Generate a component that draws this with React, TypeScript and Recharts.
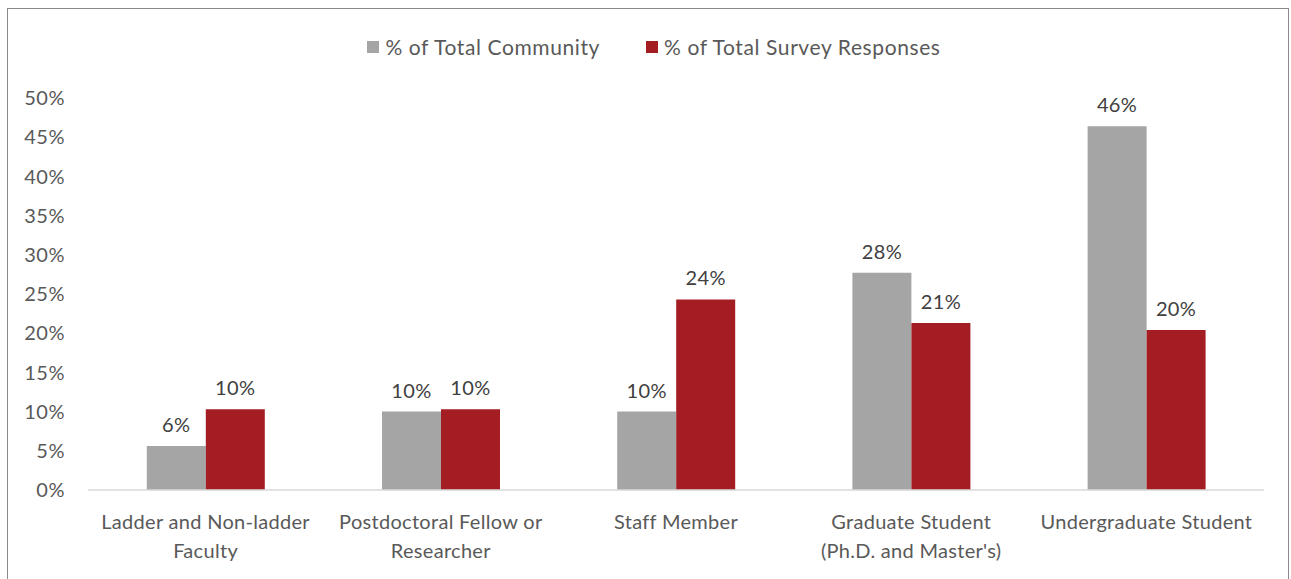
import { BarChart, Bar, XAxis, YAxis, Legend, LabelList } from 'recharts'

// Community vs. survey response shares by role
const categories = [
  'Ladder and Non-ladder\nFaculty',
  'Postdoctoral Fellow or\nResearcher',
  'Staff Member',
  'Graduate Student\n(Ph.D. and Master\'s)',
  'Undergraduate Student',
]
const communityShare = [0.056, 0.1, 0.1, 0.277, 0.464]
const responseShare = [0.103, 0.103, 0.243, 0.213, 0.204]
const yTicks = [0, 0.05, 0.1, 0.15, 0.2, 0.25, 0.3, 0.35, 0.4, 0.45, 0.5]

const SERIES = [
  { key: 'community', name: '% of Total Community', color: '#a5a5a5' },
  { key: 'responses', name: '% of Total Survey Responses', color: '#a31d23' },
]

const data = categories.map((c, i) => ({
  category: c,
  community: communityShare[i],
  responses: responseShare[i],
}))

const FONT = 'Lato, "Liberation Sans", sans-serif'
const pct = (v: any) => `${Math.round(Number(v) * 100)}%`

// two-line category labels, split on \n
function CategoryTick(props: any) {
  const { x, y, payload } = props
  const lines = String(payload.value).split('\n')
  return (
    <g transform={`translate(${x},${y})`}>
      {lines.map((line, i) => (
        <text key={i} x={0} y={31 + i * 29} textAnchor="middle" fill="#595959" fontSize={20} letterSpacing={0.3} fontFamily={FONT}>
          {line}
        </text>
      ))}
    </g>
  )
}

function LegendContent() {
  return (
    <div style={{ display: 'flex', justifyContent: 'center', gap: 46, paddingLeft: 12, fontFamily: FONT, fontSize: 21, letterSpacing: 0.6, color: '#595959' }}>
      {SERIES.map((s) => (
        <div key={s.key} style={{ display: 'flex', alignItems: 'center', gap: 6 }}>
          <span style={{ width: 12, height: 12, background: s.color, display: 'inline-block' }} />
          <span>{s.name}</span>
        </div>
      ))}
    </div>
  )
}

export default function App() {
  return (
    <div style={{ position: 'fixed', left: 7, top: 8, width: 1280, height: 600, border: '1px solid #8a8a8a', background: '#fff' }}>
      <BarChart
        width={1280}
        height={570}
        data={data}
        margin={{ top: 89, right: 24, left: 0, bottom: 0 }}
        barCategoryGap="25%"
        barGap={0}
      >
        <XAxis
          dataKey="category"
          height={89}
          tickLine={false}
          axisLine={{ stroke: '#d9d9d9', strokeWidth: 1.5 }}
          tick={<CategoryTick />}
          interval={0}
        />
        <YAxis
          width={80}
          domain={[0, 0.5]}
          ticks={yTicks}
          tickFormatter={pct}
          axisLine={false}
          tickLine={false}
          tickMargin={17}
          tick={{ fill: '#595959', fontSize: 20, fontFamily: FONT, letterSpacing: 0.5 }}
        />
        <Legend verticalAlign="middle" content={<LegendContent />} wrapperStyle={{ top: 25, left: 0, width: 1280 }} />
        {SERIES.map((s) => (
          <Bar key={s.key} dataKey={s.key} name={s.name} fill={s.color} isAnimationActive={false}>
            <LabelList dataKey={s.key} position="top" offset={14} formatter={pct} fill="#404040" fontSize={20} letterSpacing={0.4} fontFamily={FONT} />
          </Bar>
        ))}
      </BarChart>
    </div>
  )
}
